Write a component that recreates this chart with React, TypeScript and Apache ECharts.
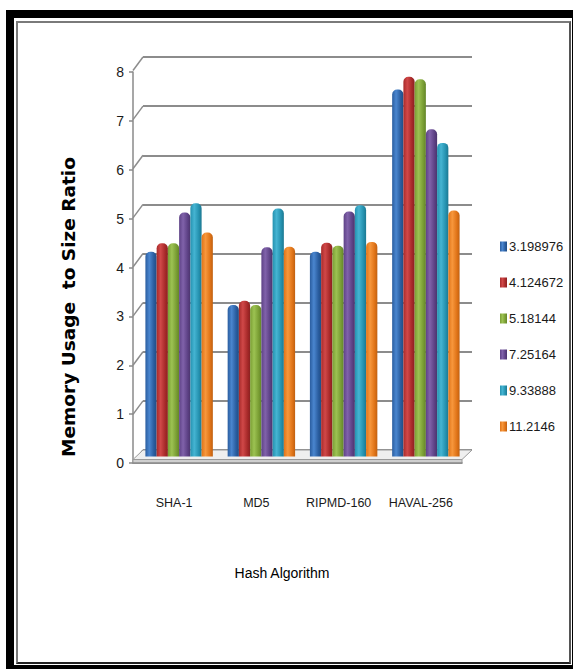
import React, { useEffect, useRef } from "react";
import * as echarts from "echarts";

const categories = ["SHA-1", "MD5", "RIPMD-160", "HAVAL-256"];
const seriesNames = ["3.198976", "4.124672", "5.18144", "7.25164", "9.33888", "11.2146"];
const blueValues = [4.18, 3.09, 4.18, 7.49];
const redValues = [4.35, 3.18, 4.36, 7.75];
const greenValues = [4.35, 3.09, 4.3, 7.7];
const purpleValues = [4.98, 4.27, 5.0, 6.68];
const cyanValues = [5.17, 5.06, 5.13, 6.4];
const orangeValues = [4.57, 4.28, 4.38, 5.02];
const yTicks = [0, 1, 2, 3, 4, 5, 6, 7, 8];
const xTitle = "Hash Algorithm";
const yTitle = "Memory Usage  to Size Ratio";

const seriesValues = [blueValues, redValues, greenValues, purpleValues, cyanValues, orangeValues];
const palette = [
  ["#2a5d9f", "#4a86cf", "#1f4d85"],
  ["#a82a2a", "#d04848", "#8a2020"],
  ["#7a9e34", "#9cc252", "#638529"],
  ["#5e4286", "#8062aa", "#4b346d"],
  ["#2592b0", "#45b4d2", "#1c7891"],
  ["#e07418", "#f7973c", "#c06010"],
];

const NARROW = "'Liberation Sans Narrow', 'Liberation Sans', Arial, sans-serif";
const DX = 10;
const DY = 13.5;

function grad(c: string[]) {
  return new echarts.graphic.LinearGradient(0, 0, 1, 0, [
    { offset: 0, color: c[0] },
    { offset: 0.35, color: c[1] },
    { offset: 0.75, color: c[0] },
    { offset: 1, color: c[2] },
  ]);
}

export default function App() {
  const ref = useRef<HTMLDivElement>(null);
  useEffect(() => {
    if (!ref.current) return;
    const chart = echarts.init(ref.current, undefined, { renderer: "svg" });
    const barSeries = seriesNames.map((name, i) => ({
      name,
      type: "bar",
      xAxisIndex: 2,
      yAxisIndex: 2,
      data: seriesValues[i],
      barGap: "0%",
      barCategoryGap: "18%",
      z: 5,
      itemStyle: { color: grad(palette[i]), borderRadius: [5, 5, 0, 0] },
    }));
    const option: any = {
      animation: false,
      grid: [
        { left: 143, top: 57, width: 329, height: 393 },
        { left: 133, top: 72, width: 329, height: 391 },
        { left: 138, top: 64.5, width: 329, height: 392 },
      ],
      xAxis: [
        { type: "category", gridIndex: 0, data: categories, show: false },
        {
          type: "category",
          gridIndex: 1,
          data: categories,
          axisLine: { lineStyle: { color: "#8a8a8a", width: 1.5 } },
          axisTick: { length: 7, lineStyle: { color: "#8a8a8a", width: 1.5 } },
          axisLabel: { interval: 0, fontFamily: NARROW, fontSize: 12.5, color: "#1a1a1a", margin: 33 },
          z: 6,
        },
        { type: "category", gridIndex: 2, data: categories, show: false },
      ],
      yAxis: [
        {
          type: "value",
          gridIndex: 0,
          min: 0,
          max: 8,
          interval: 1,
          axisLine: { show: false },
          axisTick: { show: false },
          axisLabel: { show: false },
          splitLine: { lineStyle: { color: "#8c8c8c", width: 2 } },
        },
        {
          type: "value",
          gridIndex: 1,
          min: 0,
          max: 8,
          interval: 1,
          axisLine: { show: true, lineStyle: { color: "#8a8a8a", width: 1.5 } },
          axisTick: { show: true, length: 4, lineStyle: { color: "#8a8a8a", width: 1.5 } },
          axisLabel: { fontFamily: NARROW, fontSize: 14, color: "#1a1a1a", margin: 9 },
          splitLine: { show: false },
        },
        { type: "value", gridIndex: 2, min: 0, max: 8, show: false, splitLine: { show: false } },
      ],
      legend: {
        data: seriesNames,
        orient: "vertical",
        left: 495,
        top: 235,
        itemWidth: 7,
        itemHeight: 10,
        itemGap: 23,
        icon: "rect",
        textStyle: { fontFamily: NARROW, fontSize: 13, color: "#1a1a1a", padding: [0, 0, 0, -3] },
      },
      graphic: [
        {
          type: "text",
          x: 68,
          y: 307,
          rotation: Math.PI / 2,
          style: {
            text: yTitle,
            fontFamily: "'DejaVu Sans', sans-serif",
            fontWeight: "bold",
            fontSize: 18.5,
            fill: "#000",
            textAlign: "center",
            textVerticalAlign: "middle",
          },
        },
        {
          type: "text",
          x: 282,
          y: 573,
          style: {
            text: xTitle,
            fontFamily: NARROW,
            fontSize: 14,
            fill: "#000",
            textAlign: "center",
            textVerticalAlign: "middle",
          },
        },
      ],
      series: [
        {
          type: "custom",
          xAxisIndex: 0,
          yAxisIndex: 0,
          z: 1,
          silent: true,
          data: yTicks.map((v) => [0, v]),
          renderItem: (params: any, api: any) => {
            const p = api.coord([0, api.value(1)]);
            const bw = api.size([1, 0])[0];
            const left = p[0] - bw / 2;
            return {
              type: "line",
              shape: { x1: left, y1: p[1], x2: left - DX, y2: p[1] + DY },
              style: { stroke: "#8c8c8c", lineWidth: 1.5 },
            };
          },
        },
        {
          type: "custom",
          xAxisIndex: 0,
          yAxisIndex: 0,
          z: 2,
          silent: true,
          data: [[0, 0]],
          renderItem: (params: any, api: any) => {
            const bw = api.size([1, 0])[0];
            const a = api.coord([0, 0]);
            const b = api.coord([categories.length - 1, 0]);
            const bl = [a[0] - bw / 2, a[1]];
            const br = [b[0] + bw / 2, b[1]];
            const fl = [bl[0] - DX, bl[1] + DY - 4];
            const fr = [br[0] - DX, br[1] + DY - 4];
            return {
              type: "group",
              children: [
                {
                  type: "polygon",
                  shape: { points: [bl, br, fr, fl] },
                  style: { fill: "#efefef", stroke: "#9a9a9a", lineWidth: 1 },
                },
                {
                  type: "polygon",
                  shape: { points: [fl, fr, [fr[0], fr[1] + 4], [fl[0], fl[1] + 4]] },
                  style: { fill: "#cfcfcf", stroke: "#9a9a9a", lineWidth: 1 },
                },
              ],
            };
          },
        },
        ...barSeries,
      ],
    };
    chart.setOption(option);
    return () => chart.dispose();
  }, []);

  return (
    <div style={{ position: "fixed", left: 0, top: 0, width: 573, height: 669, background: "#fff" }}>
      <div style={{ position: "absolute", left: 6, top: 10, width: 567, height: 659, background: "#000" }} />
      <div style={{ position: "absolute", left: 14, top: 18, width: 558, height: 647, background: "#fff" }} />
      <div
        style={{
          position: "absolute",
          left: 16,
          top: 21,
          width: 551,
          height: 639,
          border: "2px solid #7a7a7a",
          borderBottomColor: "#222",
          borderRightColor: "#555",
        }}
      />
      <div ref={ref} style={{ position: "absolute", left: 0, top: 0, width: 573, height: 669 }} />
    </div>
  );
}
